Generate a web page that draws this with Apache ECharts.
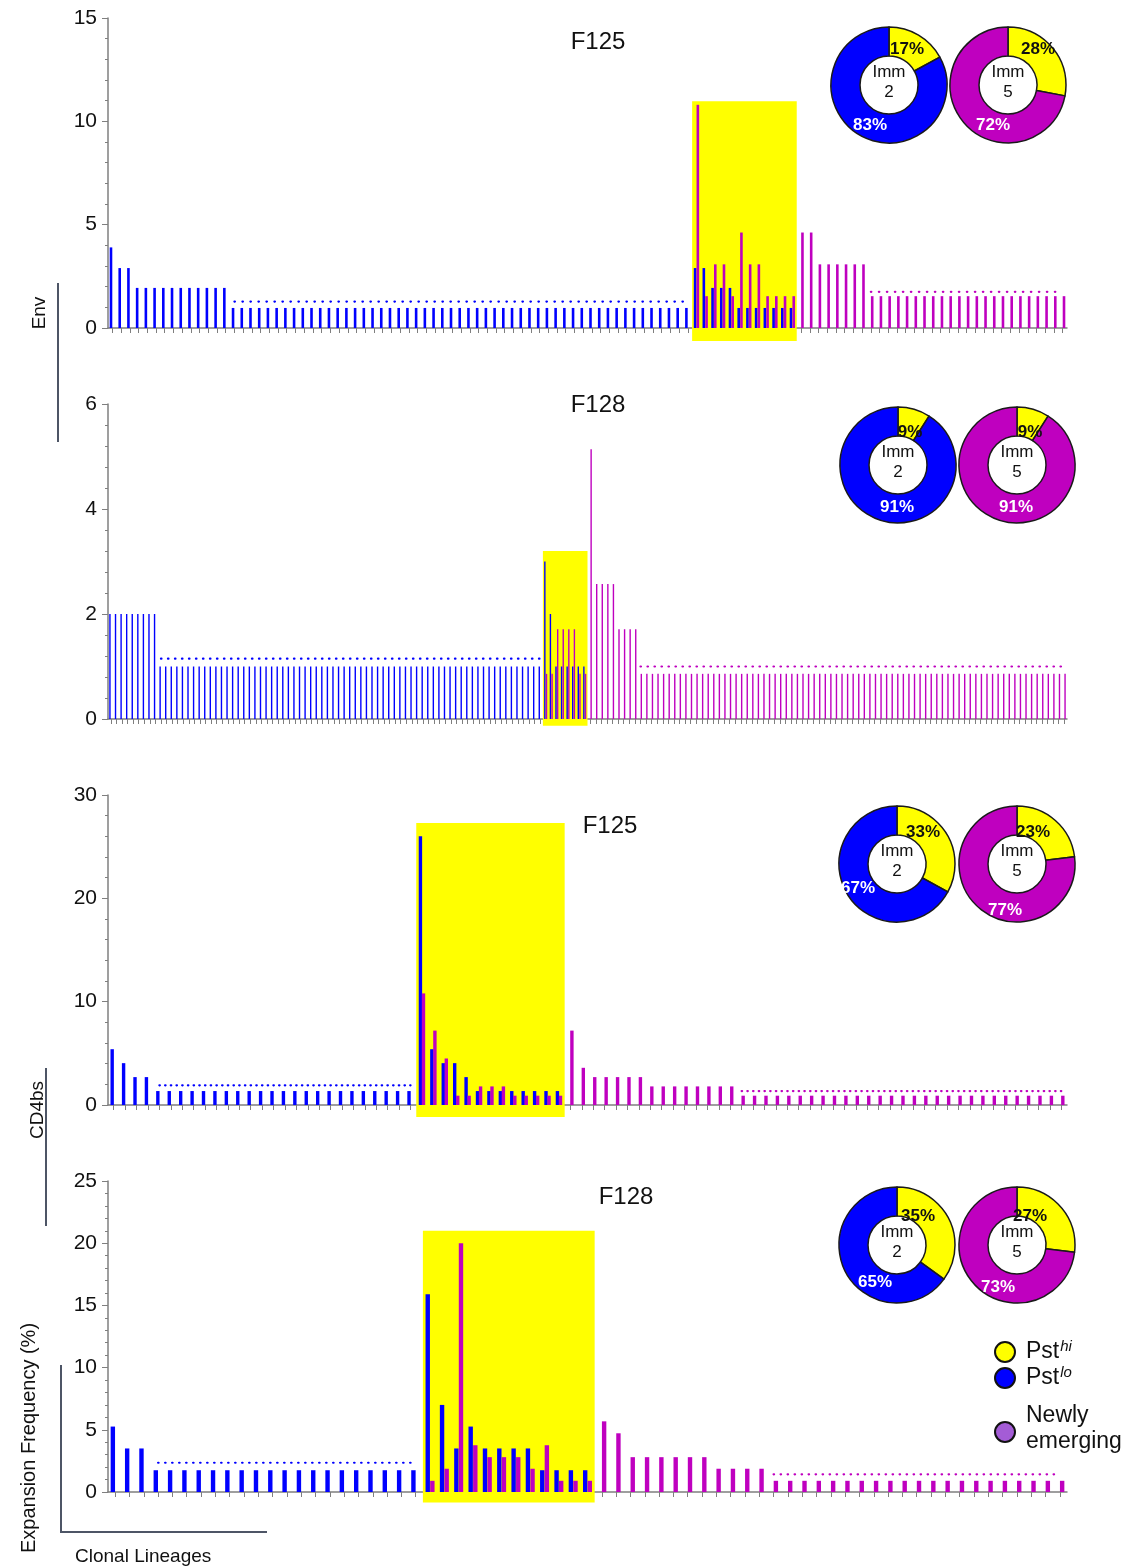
<!DOCTYPE html>
<html><head><meta charset="utf-8">
<script src="https://cdn.jsdelivr.net/npm/echarts@6/dist/echarts.min.js"></script>
<style>html,body{margin:0;padding:0;background:#fff}#c{width:1135px;height:1567px}</style>
</head><body><div id="c"></div><script>
// ---------- DATA ----------
// Panel 1: F125 Env
const p1BlueOnly = [3.9, 2.9, 2.9,
  1.94, 1.94, 1.94, 1.94, 1.94, 1.94, 1.94, 1.94, 1.94, 1.94, 1.94,
  0.97, 0.97, 0.97, 0.97, 0.97, 0.97, 0.97, 0.97, 0.97, 0.97,
  0.97, 0.97, 0.97, 0.97, 0.97, 0.97, 0.97, 0.97, 0.97, 0.97,
  0.97, 0.97, 0.97, 0.97, 0.97, 0.97, 0.97, 0.97, 0.97, 0.97,
  0.97, 0.97, 0.97, 0.97, 0.97, 0.97, 0.97, 0.97, 0.97, 0.97,
  0.97, 0.97, 0.97, 0.97, 0.97, 0.97, 0.97, 0.97, 0.97, 0.97,
  0.97, 0.97, 0.97];
const p1PairBlue = [2.9, 2.9, 1.94, 1.94, 1.94, 0.97, 0.97, 0.97, 0.97, 0.97, 0.97, 0.97];
const p1PairMag  = [10.8, 1.54, 3.08, 3.08, 1.54, 4.62, 3.08, 3.08, 1.54, 1.54, 1.54, 1.54];
const p1MagOnly = [4.62, 4.62, 3.08, 3.08, 3.08, 3.08, 3.08, 3.08,
  1.54, 1.54, 1.54, 1.54, 1.54, 1.54, 1.54, 1.54, 1.54, 1.54,
  1.54, 1.54, 1.54, 1.54, 1.54, 1.54, 1.54, 1.54, 1.54, 1.54,
  1.54, 1.54, 1.54];
const p1BlueDot = {level: 1.28, from: 14, to: 66};
const p1MagDot = {level: 1.75, from: 8, to: 30};
const p1Box = [-0.63, 10.97];
const p1Imm2 = [17, 83];
const p1Imm5 = [28, 72];

// Panel 2: F128 Env
const p2BlueOnly = [2.0, 2.0, 2.0, 2.0, 2.0, 2.0, 2.0, 2.0, 2.0,
  1.0, 1.0, 1.0, 1.0, 1.0, 1.0, 1.0, 1.0, 1.0, 1.0,
  1.0, 1.0, 1.0, 1.0, 1.0, 1.0, 1.0, 1.0, 1.0, 1.0,
  1.0, 1.0, 1.0, 1.0, 1.0, 1.0, 1.0, 1.0, 1.0, 1.0,
  1.0, 1.0, 1.0, 1.0, 1.0, 1.0, 1.0, 1.0, 1.0, 1.0,
  1.0, 1.0, 1.0, 1.0, 1.0, 1.0, 1.0, 1.0, 1.0, 1.0,
  1.0, 1.0, 1.0, 1.0, 1.0, 1.0, 1.0, 1.0, 1.0, 1.0,
  1.0, 1.0, 1.0, 1.0, 1.0, 1.0, 1.0, 1.0, 1.0];
const p2PairBlue = [3.0, 2.0, 1.0, 1.0, 1.0, 1.0, 1.0, 1.0];
const p2PairMag  = [0.86, 0.86, 1.71, 1.71, 1.71, 1.71, 0.86, 0.86];
const p2MagOnly = [5.14, 2.57, 2.57, 2.57, 2.57, 1.71, 1.71, 1.71, 1.71,
  0.86, 0.86, 0.86, 0.86, 0.86, 0.86, 0.86, 0.86, 0.86, 0.86,
  0.86, 0.86, 0.86, 0.86, 0.86, 0.86, 0.86, 0.86, 0.86, 0.86,
  0.86, 0.86, 0.86, 0.86, 0.86, 0.86, 0.86, 0.86, 0.86, 0.86,
  0.86, 0.86, 0.86, 0.86, 0.86, 0.86, 0.86, 0.86, 0.86, 0.86,
  0.86, 0.86, 0.86, 0.86, 0.86, 0.86, 0.86, 0.86, 0.86, 0.86,
  0.86, 0.86, 0.86, 0.86, 0.86, 0.86, 0.86, 0.86, 0.86, 0.86,
  0.86, 0.86, 0.86, 0.86, 0.86, 0.86, 0.86, 0.86, 0.86, 0.86,
  0.86, 0.86, 0.86, 0.86, 0.86, 0.86, 0.86];
const p2BlueDot = {level: 1.15, from: 9, to: 77};
const p2MagDot = {level: 1.0, from: 9, to: 85};
const p2Box = [-0.13, 3.2];
const p2Imm2 = [9, 91];
const p2Imm5 = [9, 91];

// Panel 3: F125 CD4bs
const p3BlueOnly = [5.4, 4.05, 2.7, 2.7,
  1.35, 1.35, 1.35, 1.35, 1.35, 1.35, 1.35, 1.35, 1.35, 1.35,
  1.35, 1.35, 1.35, 1.35, 1.35, 1.35, 1.35, 1.35, 1.35, 1.35,
  1.35, 1.35, 1.35];
const p3PairBlue = [26.0, 5.4, 4.05, 4.05, 2.7, 1.35, 1.35, 1.35, 1.35, 1.35, 1.35, 1.35, 1.35];
const p3PairMag  = [10.8, 7.2, 4.5, 0.9, 0.9, 1.8, 1.8, 1.8, 0.9, 0.9, 0.9, 0.9, 0.9];
const p3MagOnly = [7.2, 3.6, 2.7, 2.7, 2.7, 2.7, 2.7,
  1.8, 1.8, 1.8, 1.8, 1.8, 1.8, 1.8, 1.8,
  0.9, 0.9, 0.9, 0.9, 0.9, 0.9, 0.9, 0.9, 0.9, 0.9,
  0.9, 0.9, 0.9, 0.9, 0.9, 0.9, 0.9, 0.9, 0.9, 0.9,
  0.9, 0.9, 0.9, 0.9, 0.9, 0.9, 0.9, 0.9, 0.9];
const p3BlueDot = {level: 1.9, from: 4, to: 26};
const p3MagDot = {level: 1.35, from: 15, to: 43};
const p3Box = [-1.16, 27.3];
const p3Imm2 = [33, 67];
const p3Imm5 = [23, 77];

// Panel 4: F128 CD4bs
const p4BlueOnly = [5.26, 3.5, 3.5,
  1.75, 1.75, 1.75, 1.75, 1.75, 1.75, 1.75, 1.75, 1.75, 1.75,
  1.75, 1.75, 1.75, 1.75, 1.75, 1.75, 1.75, 1.75, 1.75];
const p4PairBlue = [15.9, 7.0, 3.5, 5.26, 3.5, 3.5, 3.5, 3.5, 1.75, 1.75, 1.75, 1.75];
const p4PairMag  = [0.9, 1.87, 20.0, 3.76, 2.8, 2.8, 2.8, 1.87, 3.76, 0.9, 0.9, 0.9];
const p4MagOnly = [5.68, 4.72, 2.8, 2.8, 2.8, 2.8, 2.8, 2.8,
  1.87, 1.87, 1.87, 1.87,
  0.9, 0.9, 0.9, 0.9, 0.9, 0.9, 0.9, 0.9, 0.9, 0.9,
  0.9, 0.9, 0.9, 0.9, 0.9, 0.9, 0.9, 0.9, 0.9, 0.9, 0.9];
const p4BlueDot = {level: 2.35, from: 3, to: 21};
const p4MagDot = {level: 1.42, from: 12, to: 32};
const p4Box = [-0.85, 21.0];
const p4Imm2 = [35, 65];
const p4Imm5 = [27, 73];

const titles = ['F125', 'F128', 'F125', 'F128'];
const pieCenterLabels = ['Imm\n2', 'Imm\n5'];
const legendLabels = ['Pst', 'hi', 'lo', 'Newly', 'emerging'];
const sideLabels = ['Env', 'CD4bs', 'Expansion Frequency (%)', 'Clonal Lineages'];

// ---------- STYLE / LAYOUT ----------
const FONT = '"Liberation Sans", Arial, Helvetica, sans-serif';
const BLUE = '#0000FF', MAG = '#BF00BF', YEL = '#FFFF00', PURPLE = '#A45CD6';
const AX = '#7f7f7f';

const panels = [
  {blueOnly: p1BlueOnly, pairBlue: p1PairBlue, pairMag: p1PairMag, magOnly: p1MagOnly, blueDot: p1BlueDot, magDot: p1MagDot, box: p1Box, pies: [p1Imm2, p1Imm5],
   yMax: 15, yInt: 5, minor: 5, top: 18, height: 310, barW: 2.6, gap: '5%', dot: 8, tx: 598, ty: 42, pieX: [889, 1008], pieY: 85,
   lab: [[[18, -36], [-19, 40]], [[30, -36], [-15, 40]]]},
  {blueOnly: p2BlueOnly, pairBlue: p2PairBlue, pairMag: p2PairMag, magOnly: p2MagOnly, blueDot: p2BlueDot, magDot: p2MagDot, box: p2Box, pies: [p2Imm2, p2Imm5],
   yMax: 6, yInt: 2, minor: 5, top: 404, height: 315, barW: 1.4, gap: '20%', dot: 7, tx: 598, ty: 405, pieX: [898, 1017], pieY: 465,
   lab: [[[12, -33], [-1, 42]], [[13, -33], [-1, 42]]]},
  {blueOnly: p3BlueOnly, pairBlue: p3PairBlue, pairMag: p3PairMag, magOnly: p3MagOnly, blueDot: p3BlueDot, magDot: p3MagDot, box: p3Box, pies: [p3Imm2, p3Imm5],
   yMax: 30, yInt: 10, minor: 5, top: 795, height: 310, barW: 3.4, gap: '-10%', dot: 5.7, tx: 610, ty: 826, pieX: [897, 1017], pieY: 864,
   lab: [[[26, -32], [-39, 24]], [[16, -32], [-12, 46]]]},
  {blueOnly: p4BlueOnly, pairBlue: p4PairBlue, pairMag: p4PairMag, magOnly: p4MagOnly, blueDot: p4BlueDot, magDot: p4MagDot, box: p4Box, pies: [p4Imm2, p4Imm5],
   yMax: 25, yInt: 5, minor: 5, top: 1181, height: 311, barW: 4.4, gap: '5%', dot: 7, tx: 626, ty: 1197, pieX: [897, 1017], pieY: 1245,
   lab: [[[21, -29], [-22, 37]], [[13, -29], [-19, 42]]]}
];

const option = {animation: false, backgroundColor: '#fff', grid: [], xAxis: [], yAxis: [], series: [], graphic: []};

function txt(text, x, y, size, opts) {
  return Object.assign({type: 'text', x: x, y: y, silent: true, z: 100,
    style: Object.assign({text: text, fontSize: size, fontFamily: FONT, fill: '#111',
      align: 'center', verticalAlign: 'middle', textAlign: 'center', textVerticalAlign: 'middle'}, (opts && opts.style) || {})},
    (opts && opts.el) || {});
}

panels.forEach((p, i) => {
  const blue = [], mag = [];
  p.blueOnly.forEach(v => { blue.push(v); mag.push('-'); });
  p.pairBlue.forEach((v, k) => { blue.push(v); mag.push(p.pairMag[k]); });
  p.magOnly.forEach(v => { blue.push('-'); mag.push(v); });
  const cats = blue.map((_, k) => 'L' + (k + 1));
  const yStart = p.blueOnly.length, yEnd = yStart + p.pairBlue.length - 1;
  const mOff = yEnd + 1;
  const blueDotData = blue.map((_, k) => (k >= p.blueDot.from && k <= p.blueDot.to) ? p.blueDot.level : '-');
  const magDotData = mag.map((_, k) => (k >= mOff + p.magDot.from && k <= mOff + p.magDot.to) ? p.magDot.level : '-');

  option.grid.push({left: 108, width: 959, top: p.top, height: p.height});
  option.xAxis.push({type: 'category', gridIndex: i, data: cats, boundaryGap: true,
    axisLine: {lineStyle: {color: AX, width: 1.5}},
    axisTick: {show: true, interval: 0, alignWithLabel: true, length: 5, lineStyle: {color: AX, width: 1}},
    axisLabel: {show: false}, splitLine: {show: false}});
  option.yAxis.push({type: 'value', gridIndex: i, min: 0, max: p.yMax, interval: p.yInt,
    axisLine: {show: true, lineStyle: {color: AX, width: 1.5}},
    axisTick: {show: true, length: 6, lineStyle: {color: AX, width: 1}},
    minorTick: {show: true, splitNumber: p.minor, length: 3, lineStyle: {color: AX, width: 1}},
    splitLine: {show: false}, minorSplitLine: {show: false},
    axisLabel: {fontSize: 21, color: '#111', margin: 11, fontFamily: FONT}});

  // yellow highlight box
  option.series.push({type: 'custom', xAxisIndex: i, yAxisIndex: i, z: 1, silent: true, clip: false,
    encode: {x: [0, 1], y: [2, 3]},
    renderItem: function (params, api) {
      const bw = api.size([1, 0])[0];
      const a = api.coord([api.value(0), api.value(3)]);
      const b = api.coord([api.value(1), api.value(2)]);
      return {type: 'rect', shape: {x: a[0] - bw / 2, y: a[1], width: b[0] - a[0] + bw, height: b[1] - a[1]}, style: {fill: YEL}};
    },
    data: [[yStart, yEnd, p.box[0], p.box[1]]]});

  option.series.push({type: 'bar', xAxisIndex: i, yAxisIndex: i, data: blue, barWidth: p.barW, barGap: p.gap, z: 3, silent: true,
    itemStyle: {color: BLUE}});
  option.series.push({type: 'bar', xAxisIndex: i, yAxisIndex: i, data: mag, barWidth: p.barW, barGap: p.gap, z: 3, silent: true,
    itemStyle: {color: MAG}});
  option.series.push({type: 'line', xAxisIndex: i, yAxisIndex: i, data: blueDotData, symbol: 'none', connectNulls: false, z: 4, silent: true,
    lineStyle: {color: BLUE, width: 2.2, type: [0.5, p.dot - 0.5], cap: 'round'}});
  option.series.push({type: 'line', xAxisIndex: i, yAxisIndex: i, data: magDotData, symbol: 'none', connectNulls: false, z: 4, silent: true,
    lineStyle: {color: MAG, width: 2.2, type: [0.5, p.dot - 0.5], cap: 'round'}});

  // pies
  p.pies.forEach((vals, j) => {
    const cx = p.pieX[j], cy = p.pieY, lab = p.lab[j];
    option.series.push({type: 'pie', center: [cx, cy], radius: [29, 58], startAngle: 90, clockwise: true, silent: true, z: 5,
      label: {show: true, position: 'inside', formatter: '{c}%', fontSize: 17, fontWeight: 'bold', fontFamily: FONT},
      labelLine: {show: false},
      labelLayout: function (params) {
        const d = lab[params.dataIndex];
        return {x: cx + d[0], y: cy + d[1], align: 'center', verticalAlign: 'middle'};
      },
      itemStyle: {borderColor: '#1a1a1a', borderWidth: 1.5},
      data: [
        {value: vals[0], name: 'Pst hi', itemStyle: {color: YEL}, label: {color: '#111'}},
        {value: vals[1], name: j === 0 ? 'Pst lo' : 'Newly emerging', itemStyle: {color: j === 0 ? BLUE : MAG}, label: {color: '#fff'}}
      ]});
    option.graphic.push(txt(pieCenterLabels[j], cx, cy - 3, 17, {style: {lineHeight: 20}}));
  });

  option.graphic.push(txt(titles[i], p.tx, p.ty, 24));
});

// side labels and guide lines
const LC = '#4d5566';
option.graphic.push(txt(sideLabels[0], 40, 313, 19, {el: {rotation: Math.PI / 2}}));
option.graphic.push({type: 'line', silent: true, shape: {x1: 58, y1: 283, x2: 58, y2: 442}, style: {stroke: LC, lineWidth: 2}});
option.graphic.push(txt(sideLabels[1], 38, 1110, 19, {el: {rotation: Math.PI / 2}}));
option.graphic.push({type: 'line', silent: true, shape: {x1: 46, y1: 1068, x2: 46, y2: 1226}, style: {stroke: LC, lineWidth: 2}});
option.graphic.push(txt(sideLabels[2], 29, 1438, 20, {el: {rotation: Math.PI / 2}}));
option.graphic.push({type: 'polyline', silent: true, shape: {points: [[61, 1365], [61, 1532], [267, 1532]]}, style: {stroke: LC, lineWidth: 2, fill: null}});
option.graphic.push(txt(sideLabels[3], 75, 1557, 19, {style: {align: 'left', textAlign: 'left'}}));

// legend
[[YEL, 1352], [BLUE, 1378], [PURPLE, 1432]].forEach(([c, y]) => {
  option.graphic.push({type: 'circle', silent: true, shape: {cx: 1005, cy: y, r: 10}, style: {fill: c, stroke: '#111', lineWidth: 2}, z: 100});
});
const supRich = {a: {fontSize: 23, fontFamily: FONT, fill: '#111', color: '#111', lineHeight: 26},
  s: {fontSize: 15, fontStyle: 'italic', fontFamily: FONT, fill: '#111', color: '#111', verticalAlign: 'top', lineHeight: 26, padding: [0, 0, 8, 1]}};
option.graphic.push({type: 'text', x: 1026, y: 1352, silent: true, z: 100, style: {
  text: '{a|' + legendLabels[0] + '}{s|' + legendLabels[1] + '}', align: 'left', verticalAlign: 'middle', textAlign: 'left', textVerticalAlign: 'middle', rich: supRich}});
option.graphic.push({type: 'text', x: 1026, y: 1378, silent: true, z: 100, style: {
  text: '{a|' + legendLabels[0] + '}{s|' + legendLabels[2] + '}', align: 'left', verticalAlign: 'middle', textAlign: 'left', textVerticalAlign: 'middle', rich: supRich}});
option.graphic.push(txt(legendLabels[3], 1026, 1416, 23, {style: {align: 'left', textAlign: 'left'}}));
option.graphic.push(txt(legendLabels[4], 1026, 1442, 23, {style: {align: 'left', textAlign: 'left'}}));

const chart = echarts.init(document.getElementById('c'), null, {renderer: 'canvas'});
chart.setOption(option);
</script></body></html>
